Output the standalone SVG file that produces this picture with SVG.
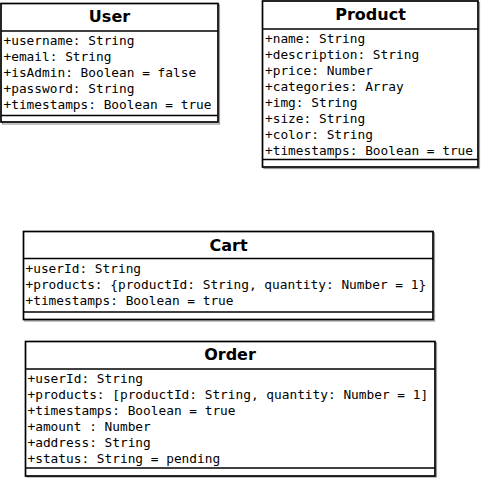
<svg xmlns="http://www.w3.org/2000/svg" width="481" height="478" viewBox="0 0 481 478">
<style>
.bg{fill:#ffffff}
.box{fill:none;stroke:#000000;stroke-width:1.7}
.sh{fill:none;stroke:#9a9a9a;stroke-width:1.2}
.ln{stroke:#000000;stroke-width:1.7}
.title{font-family:"DejaVu Sans",sans-serif;font-weight:bold;font-size:16px;fill:#000000;text-anchor:middle}
.attr{font-family:"DejaVu Sans Mono","Liberation Mono",monospace;font-size:12.8px;fill:#000000}
</style>
<rect x="0" y="0" width="481" height="478" class="bg"/>
<g id="User">
<rect x="2.5" y="5" width="217" height="119" class="sh"/>
<rect x="1" y="3.5" width="217" height="118.5" class="bg"/>
<rect x="1" y="3.5" width="217" height="118.5" class="box"/>
<line x1="1" y1="31" x2="218" y2="31" class="ln"/>
<line x1="1" y1="115.5" x2="218" y2="115.5" class="ln"/>
<text x="109.5" y="22" class="title">User</text>
<text class="attr" x="3.5" y="45">+username: String</text>
<text class="attr" x="3.5" y="61">+email: String</text>
<text class="attr" x="3.5" y="77">+isAdmin: Boolean = false</text>
<text class="attr" x="3.5" y="93">+password: String</text>
<text class="attr" x="3.5" y="109">+timestamps: Boolean = true</text>
</g>
<g id="Product">
<rect x="264" y="2.5" width="215.5" height="166" class="sh"/>
<rect x="262.5" y="1" width="215.5" height="166" class="bg"/>
<rect x="262.5" y="1" width="215.5" height="166" class="box"/>
<line x1="262.5" y1="29" x2="478" y2="29" class="ln"/>
<line x1="262.5" y1="159.5" x2="478" y2="159.5" class="ln"/>
<text x="370.5" y="20" class="title">Product</text>
<text class="attr" x="265" y="43">+name: String</text>
<text class="attr" x="265" y="59">+description: String</text>
<text class="attr" x="265" y="75">+price: Number</text>
<text class="attr" x="265" y="91">+categories: Array</text>
<text class="attr" x="265" y="107">+img: String</text>
<text class="attr" x="265" y="123">+size: String</text>
<text class="attr" x="265" y="139">+color: String</text>
<text class="attr" x="265" y="155">+timestamps: Boolean = true</text>
</g>
<g id="Cart">
<rect x="25" y="233" width="409.5" height="88" class="sh"/>
<rect x="23.5" y="231.5" width="409.5" height="88" class="bg"/>
<rect x="23.5" y="231.5" width="409.5" height="88" class="box"/>
<line x1="23.5" y1="258.5" x2="433" y2="258.5" class="ln"/>
<line x1="23.5" y1="312" x2="433" y2="312" class="ln"/>
<text x="228.5" y="251" class="title">Cart</text>
<text class="attr" x="25.5" y="273">+userId: String</text>
<text class="attr" x="25.5" y="289">+products: {productId: String, quantity: Number = 1}</text>
<text class="attr" x="25.5" y="305">+timestamps: Boolean = true</text>
</g>
<g id="Order">
<rect x="27" y="343" width="409.5" height="134" class="sh"/>
<rect x="25.5" y="341.5" width="409.5" height="134.5" class="bg"/>
<rect x="25.5" y="341.5" width="409.5" height="134.5" class="box"/>
<line x1="25.5" y1="369" x2="435" y2="369" class="ln"/>
<line x1="25.5" y1="468" x2="435" y2="468" class="ln"/>
<text x="230" y="360" class="title">Order</text>
<text class="attr" x="27.5" y="383">+userId: String</text>
<text class="attr" x="27.5" y="399">+products: [productId: String, quantity: Number = 1]</text>
<text class="attr" x="27.5" y="415">+timestamps: Boolean = true</text>
<text class="attr" x="27.5" y="431">+amount : Number</text>
<text class="attr" x="27.5" y="447">+address: String</text>
<text class="attr" x="27.5" y="463">+status: String = pending</text>
</g>
<g id="connectors"></g>
</svg>
